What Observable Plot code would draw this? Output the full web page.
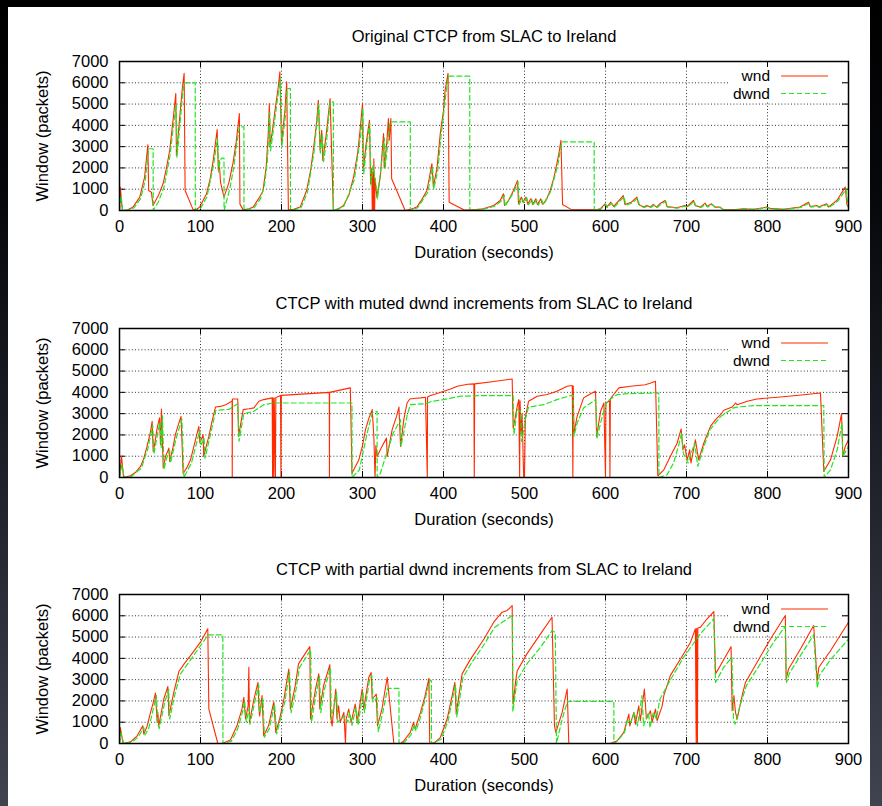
<!DOCTYPE html>
<html><head><meta charset="utf-8">
<script src="https://cdn.jsdelivr.net/npm/d3@7"></script>
<script src="https://cdn.jsdelivr.net/npm/@observablehq/plot@0.6"></script>
<style>
html,body{margin:0;padding:0;width:882px;height:806px;overflow:hidden;
 background:linear-gradient(180deg,#000 0%,#07080c 25%,#23262f 65%,#40444f 100%);}
#page{position:absolute;left:8px;top:7px;width:862px;height:799px;background:#fff;}
.panel{position:absolute;left:0;}
</style></head><body><div id="page"></div>
<script>
const titles = ["Original CTCP from SLAC to Ireland",
  "CTCP with muted dwnd increments from SLAC to Ireland",
  "CTCP with partial dwnd increments from SLAC to Ireland"];
const xTicks = [0,100,200,300,400,500,600,700,800,900];
const yTicks = [0,1000,2000,3000,4000,5000,6000,7000];
const xLabel = "Duration (seconds)";
const yLabel = "Window (packets)";
const seriesNames = ["wnd","dwnd"];

// Panel 1: original CTCP  [seconds, packets]
const wnd1 = [[0,200],[1,1100],[3.5,0],[10,20],[16.7,160],[25,630],[31,1570],[35,3090],[36,940],[39.4,860],[41.4,235],[48,700],[53.8,1256],[58,2000],[62,2830],[67,4550],[69.5,5500],[70.3,2590],[74.4,4400],[77.7,5800],[79.8,6440],[81,940],[91,30],[95,60],[99,160],[107.4,785],[112,1500],[115.7,2355],[120.6,3800],[122,1880],[123,2350],[124.7,1335],[129,630],[135,1300],[140,2200],[144,3200],[148,4550],[148.7,300],[152.8,30],[160,80],[165,160],[173,630],[177,900],[181,2000],[183.5,3500],[185,5020],[185.8,2980],[189,3800],[192,4710],[196,5800],[198,6515],[200,3140],[202,3900],[204.3,4710],[206.4,6045],[208.5,30],[215,60],[223,160],[231,940],[236,1900],[239.3,2830],[243,4000],[245.5,5180],[247.6,2830],[249.7,3770],[251,2355],[255,3500],[260,5260],[264,0],[270,60],[276.5,235],[283,700],[289,1570],[294,2700],[297,3770],[300,5020],[301,1880],[304.5,3140],[308.6,4240],[310,1256],[311.5,2000],[312,0],[312.5,1800],[313.5,0],[314,2430],[315,0],[315.5,1500],[317.7,630],[322,1600],[326,3610],[326.8,2000],[330,3200],[332,4320],[333,3300],[335,4320],[336,1490],[352.7,0],[360,60],[367,160],[373,500],[379.6,940],[385.7,2200],[387.5,1100],[392,2000],[396,3610],[400,4700],[402,5650],[405.6,6440],[407,390],[425,30],[430,20],[440,40],[449,80],[462,235],[470,470],[474,785],[475.3,235],[480,450],[486.4,940],[491.4,1410],[492.6,314],[496,630],[498,400],[502,630],[504,300],[508,560],[510,280],[514,550],[516,280],[520,550],[522,300],[523.5,314],[528,600],[531.7,940],[536,1500],[540,2200],[543,2800],[545,3300],[547,280],[558.4,30],[593,30],[595.5,160],[599.6,314],[601.6,160],[606.6,390],[610,190],[622,700],[624,280],[632,390],[638.7,630],[641,280],[647,160],[651,235],[655,160],[659,280],[663,160],[667,314],[673.7,470],[675.8,190],[688,130],[698,235],[700,160],[708.6,470],[710.7,235],[717,160],[723,345],[725,190],[731,314],[735,160],[741.6,160],[745,30],[758,30],[770,80],[782.7,60],[795,130],[799,160],[803,100],[820,60],[840,160],[850.6,390],[852.7,190],[861,235],[863,160],[873,314],[875,160],[885.6,470],[896,1100],[898,280],[900,160]];
const dwnd1 = [[0,0],[2,700],[4,0],[10,10],[18,130],[26,550],[32,1450],[36,2900],[41.5,2900],[41.6,0],[48,400],[55,1100],[62,2500],[67,4100],[70,5000],[71,2500],[75,4200],[78,5500],[80,6000],[93.5,6000],[93.6,0],[100,100],[108,650],[116,2100],[121,3400],[122.5,1800],[124,2300],[126,2465],[129,2465],[129.1,0],[136,1000],[141,2000],[145,3200],[148,3925],[153.6,3925],[153.7,0],[166,120],[174,550],[179,1200],[182.5,2300],[185.5,4600],[186.5,2800],[192.5,4500],[198.5,6200],[200.5,3000],[205,4500],[207,5730],[211,5730],[211.1,0],[224,120],[232,850],[240,2700],[246,5000],[248,2700],[250.5,3600],[252,2300],[256,3400],[260,5100],[264,5100],[264.1,0],[277,200],[290,1450],[298,3600],[300.5,4800],[301.5,1700],[305,3000],[309,4100],[310.5,1200],[313,2100],[316,1400],[318.5,550],[327,3400],[328,2000],[331,3100],[334,4160],[359,4160],[359.1,0],[368,130],[380.5,850],[386.5,2050],[388,1000],[393,1900],[397,3500],[403,5500],[406,6310],[432.4,6310],[432.5,0],[440,20],[450,70],[463,200],[471,430],[475,720],[476,200],[487,880],[492,1350],[493.5,280],[497,580],[499,360],[503,580],[505,270],[509,520],[511,250],[515,510],[517,250],[521,510],[524,280],[532,880],[541,2100],[546,3220],[586,3220],[586.1,0],[596,130],[600.5,280],[602.5,140],[607.5,350],[611,160],[623,650],[625,250],[633,350],[639.5,580],[642,250],[648,140],[652,210],[656,140],[660,250],[664,140],[668,280],[674.5,430],[676.5,160],[689,110],[699,210],[701,140],[709.5,430],[711.5,210],[718,140],[724,310],[726,160],[732,280],[736,140],[742,140],[746,20],[759,20],[771,60],[783,50],[796,110],[800,140],[804,80],[821,50],[841,140],[851.5,350],[853.5,160],[862,210],[864,140],[874,280],[876,140],[886.5,430],[897,1000],[899,250],[900,140]];

// Panel 2: muted dwnd increments
const wnd2 = [[0,0],[2.5,1000],[5,0],[13.6,80],[20,250],[26,520],[30,900],[34,1460],[38,2100],[40.3,2640],[41.6,1220],[44,1700],[46.5,2320],[49.4,2800],[50.6,1540],[51.8,3220],[54,440],[56.8,990],[61,1380],[62,750],[66,1400],[69,2010],[72,2400],[76,2870],[78.6,200],[83,450],[87.7,830],[93.8,1770],[98,2400],[99.2,1620],[103.3,2010],[104,990],[108,1600],[110.3,1930],[114,2600],[118.5,3310],[125,3340],[131,3420],[135,3500],[139,3600],[139.2,0],[139.4,3690],[146,3690],[147,1930],[150,2600],[152.7,3190],[160,3230],[166,3270],[172,3580],[178,3660],[188.5,3740],[189,0],[189.5,3740],[190.5,0],[191,3740],[192.5,0],[193,3760],[194.7,3780],[198.8,3850],[199.3,0],[199.8,3860],[259,4000],[259.2,0],[259.4,4000],[285,4210],[287,200],[295.5,830],[300,1500],[303.7,2250],[308,2800],[312,3190],[314,1930],[315.5,0],[316.5,1500],[318,990],[324,1460],[329.6,1850],[330.5,990],[336.6,2250],[342,2870],[345,3310],[347,1460],[351,2720],[355,3500],[358.4,3690],[366,3720],[372,3740],[377.8,3770],[380,0],[380.3,3780],[384,3850],[392,3950],[400.4,4050],[408,4150],[417,4290],[430,4380],[437.5,4400],[438,0],[438.5,4400],[460,4500],[484.8,4630],[486,2320],[488,2700],[491,3340],[493,3660],[494,0],[494.5,3600],[496,2010],[497,3000],[499,0],[500,0],[501,2800],[505,3580],[515.6,3820],[528,3900],[540,4050],[552.7,4290],[559,4320],[559.7,0],[560.2,4300],[561,2090],[565,2870],[573,3740],[580,3900],[587.7,4050],[589,1930],[594,3110],[598,3500],[600,0],[600.5,3500],[605,3600],[605.5,0],[606,3700],[616.5,4210],[631,4290],[649,4360],[655,4430],[661.7,4520],[664.6,80],[672,360],[680,990],[688.5,1620],[693.4,2280],[695.5,1300],[697.5,1540],[700.8,830],[704,1300],[705.5,680],[711,1770],[715,830],[721.4,1620],[729.6,2400],[735.8,2720],[742,2950],[746,3160],[756.4,3310],[760.5,3500],[762.5,3420],[775,3580],[787,3690],[816,3780],[845,3890],[865.4,3970],[869.5,280],[877.8,830],[886,1930],[891.4,3000],[893,990],[896,1460],[900,1770]];
const dwnd2 = [[0,0],[3,600],[6,0],[15,60],[27,450],[35,1350],[41,2450],[42.5,1100],[47.5,2150],[50,2600],[51.5,1400],[53,2900],[55,380],[58,900],[62,1250],[63,680],[70,1850],[77,2750],[79.5,0],[89,700],[95,1600],[99,2200],[100.5,1500],[104.5,1850],[105.5,900],[111,1800],[119,3160],[135,3200],[146,3470],[147.5,1700],[153.5,3000],[166,3110],[178,3420],[190.5,3500],[287,3500],[287.1,0],[296,350],[305.8,2090],[312,3030],[318,3110],[318.1,0],[322,200],[330,1150],[338,2090],[347,2720],[347.5,1460],[355,2900],[359,3420],[378,3470],[384,3560],[400,3660],[421,3820],[445.7,3850],[486,3850],[487,2010],[491,3200],[495,3110],[496.5,1700],[501,2720],[505,3310],[524,3420],[540,3660],[557,3850],[560,3850],[561,1930],[565,2560],[573,3270],[588,3660],[589.5,1850],[596,2870],[602,3570],[614,3890],[626.7,3940],[665.8,3970],[666,0],[676,130],[684,680],[690,1460],[694,2090],[696,1150],[702,680],[710,1630],[714,520],[720,1300],[729,2250],[742,2860],[758,3270],[762.5,3310],[783,3380],[869.5,3380],[870,0],[877.8,360],[886,1300],[892,2560],[893,990],[900,1460]];

// Panel 3: partial dwnd increments
const wnd3 = [[0,0],[1,750],[4.5,0],[13.6,80],[21.8,360],[28.8,830],[30,440],[34,800],[38.3,1460],[41.5,1900],[44.4,2370],[46.5,990],[47.3,1460],[48.5,830],[54.7,2090],[59.7,2680],[61,1300],[67,2400],[73.3,3380],[80,3750],[87.7,4130],[100,4760],[109,5390],[110.3,1620],[121.4,0],[126.7,0],[137,160],[145,830],[151.4,1650],[153.5,2170],[155.6,1150],[158.8,1770],[159.7,3580],[160.5,990],[166,2090],[171,2870],[172.2,1620],[173,1300],[176,2250],[178,360],[184,830],[190.5,1960],[193,520],[198,1200],[203,2090],[206,2800],[209,3500],[211,1620],[217,2720],[221,3740],[228,4150],[235,4550],[235.8,1150],[242,2560],[246,3270],[247.3,1620],[252,2720],[259.7,3700],[260.5,1300],[262.5,830],[267,2560],[268.5,1150],[270.5,1770],[272.5,990],[277,1460],[279,0],[279.8,1150],[283,1620],[286,990],[291,1850],[293.5,990],[299.6,2560],[301.5,1620],[307.8,3110],[310.7,3340],[312,2090],[317,2320],[318.5,830],[324,1620],[330.5,3110],[338.7,0],[347,0],[351,120],[359,520],[363,990],[365,680],[371.6,1460],[377,2200],[382,3060],[383,0],[388,0],[396,280],[404.5,1150],[410.7,2250],[414,2870],[415.7,1380],[419,2250],[423,3270],[433,3940],[450,4910],[462,5700],[472.4,6170],[478.6,6250],[484.8,6480],[485.6,2250],[486,1850],[488.9,2870],[491,3420],[503,4210],[519.8,5150],[534,5930],[537,830],[538.7,520],[546.5,1460],[552.7,2560],[554.7,0],[606,0],[614.4,130],[622.6,520],[628.8,1380],[630,830],[635,1460],[637,910],[641,1770],[643,1070],[648,2560],[650.5,1150],[655.5,1540],[657.5,990],[661.7,1620],[663.7,1070],[670,1770],[672,2250],[680,3190],[692.6,3970],[705,4760],[711,5390],[712,0],[712.5,5400],[713.5,0],[714,5420],[717,5460],[725.5,5860],[733.7,6200],[735.8,3270],[744,3810],[755,4550],[756.4,1540],[758.5,2250],[760.5,1460],[762.5,1150],[768.7,2250],[772.8,2870],[787,3810],[803.7,4910],[822,6010],[823,3030],[826,3500],[840.7,4440],[857,5540],[861.3,2950],[863.4,3580],[877.8,4360],[900,5700]];
const dwnd3 = [[0,0],[2,500],[5,0],[15,60],[23,300],[30,750],[31.5,400],[36,700],[40,1350],[45.5,2250],[47.5,900],[49,700],[56,1950],[60.7,2550],[62,1150],[68,2250],[75,3250],[89,4000],[101,4650],[109.5,5100],[127.6,5100],[127.7,0],[138,100],[146,700],[152,1500],[154.5,2000],[156.5,1000],[160,1650],[161,900],[167,1950],[172,2750],[173,1450],[177,2100],[179,300],[185,700],[191.5,1850],[194,450],[204,1950],[210,3350],[212,1450],[218,2550],[222,3550],[236,4400],[237,1000],[243,2400],[247,3150],[248.5,1450],[253,2550],[260.5,3550],[261.5,1150],[268,2400],[269.5,1000],[278,1300],[282,1000],[284,1450],[287,850],[292,1700],[294.5,850],[300.5,2400],[302.5,1450],[308.5,2950],[311.5,3200],[313,1950],[318,2150],[319.5,550],[325,1450],[331,2590],[345,2590],[345.1,0],[352,60],[360,420],[364,900],[366,580],[372.5,1350],[383,2950],[385,2950],[385.1,0],[397,200],[405.5,1050],[411.5,2150],[415,2750],[416.5,1250],[420,2100],[424,3100],[434,3750],[451,4700],[463,5450],[485,6010],[485.6,1490],[491,2990],[503,3740],[520,4530],[534,5300],[538,5220],[539.5,0],[546.5,1150],[552.7,1930],[553,1980],[610.3,1980],[610.4,0],[615,130],[623.5,520],[627.5,1150],[631.5,990],[635.5,1460],[639.5,830],[645,2250],[647,830],[653,1460],[655,740],[659,1460],[663,1150],[667,2070],[680,2980],[696,4020],[717,5150],[733.7,5860],[735.8,2870],[746,3580],[756,4050],[758,1150],[760,910],[766,1770],[774,2720],[790,3670],[806.5,4700],[822,5510],[823.5,2870],[827,3300],[841,4150],[857,5100],[861.5,2600],[864,3200],[878,3950],[900,4900]];

const panels = [[wnd1,dwnd1],[wnd2,dwnd2],[wnd3,dwnd3]];
const FONT = "'Liberation Sans', Arial, Helvetica, sans-serif";
const FS = 16.5, LFS = 15.5;
const RED = "#ff2a00", GREEN = "#22e622";
const W = 862, H = 267, ML = 111, MR = 22, MT = 54, MB = 64;
const FH = H - MT - MB, FW = W - ML - MR, TICK = 6;

function legendBox(index, scales, values, dim) {
  const r = dim.width - dim.marginRight;
  const g = d3.create("svg:g");
  g.append("rect").attr("x", r - 118).attr("y", dim.marginTop + 1)
    .attr("width", 112).attr("height", 39).attr("fill", "#fff");
  return g.node();
}
function legendKeys(index, scales, values, dim) {
  const r = dim.width - dim.marginRight, t = dim.marginTop;
  const g = d3.create("svg:g").attr("font-family", FONT).attr("font-size", LFS);
  const cols = [RED, GREEN], dash = [null, "5,3"];
  seriesNames.forEach((name, i) => {
    const y = t + 15 + i * 17.5;
    g.append("text").attr("x", r - 78).attr("y", y).attr("dy", "0.35em")
      .attr("text-anchor", "end").attr("fill", "#000").text(name);
    const ln = g.append("line").attr("x1", r - 67).attr("x2", r - 20)
      .attr("y1", y).attr("y2", y).attr("stroke", cols[i]).attr("stroke-width", 1.2);
    if (dash[i]) ln.attr("stroke-dasharray", dash[i]);
  });
  return g.node();
}

const page = document.getElementById("page");
const txt = {fontSize: FS, fill: "#000", lineAnchor: "middle"};
panels.forEach(([w, dw], k) => {
  const chart = Plot.plot({
    width: W, height: H,
    marginLeft: ML, marginRight: MR, marginTop: MT, marginBottom: MB,
    x: {domain: [0, 900], axis: null},
    y: {domain: [0, 7000], axis: null},
    style: {fontFamily: FONT, fontSize: FS + "px", background: "transparent", color: "#000"},
    marks: [
      Plot.ruleX(xTicks, {x: d => d, stroke: "#000", strokeOpacity: 0.8, strokeDasharray: "1,2.2"}),
      Plot.ruleY(yTicks, {y: d => d, stroke: "#000", strokeOpacity: 0.8, strokeDasharray: "1,2.2"}),
      legendBox,
      Plot.ruleX(xTicks, {x: d => d, insetTop: FH - TICK, stroke: "#000"}),
      Plot.ruleX(xTicks, {x: d => d, insetBottom: FH - TICK, stroke: "#000"}),
      Plot.ruleY(yTicks, {y: d => d, insetRight: FW - TICK, stroke: "#000"}),
      Plot.ruleY(yTicks, {y: d => d, insetLeft: FW - TICK, stroke: "#000"}),
      Plot.line(w, {x: d => d[0], y: d => d[1], stroke: RED, strokeWidth: 1.1}),
      Plot.line(dw, {x: d => d[0], y: d => d[1], stroke: GREEN, strokeWidth: 1.2, strokeDasharray: "5,3"}),
      Plot.frame({stroke: "#000", strokeWidth: 1.5}),
      Plot.text(xTicks, {x: d => d, text: d => String(d), frameAnchor: "bottom", dy: 16, textAnchor: "middle", ...txt}),
      Plot.text(yTicks, {y: d => d, text: d => String(d), frameAnchor: "left", dx: -11, textAnchor: "end", ...txt}),
      Plot.text([xLabel], {text: d => d, frameAnchor: "bottom", dy: 42, textAnchor: "middle", ...txt}),
      Plot.text([yLabel], {text: d => d, frameAnchor: "left", dx: -77, rotate: -90, textAnchor: "middle", ...txt}),
      Plot.text([titles[k]], {text: d => d, frameAnchor: "top", dy: -25, textAnchor: "middle", ...txt}),
      legendKeys
    ]
  });
  const div = document.createElement("div");
  div.className = "panel";
  div.style.top = (k === 0 ? 0 : k === 1 ? 267 : 533) + "px";
  div.appendChild(chart);
  page.appendChild(div);
});
</script></body></html>
